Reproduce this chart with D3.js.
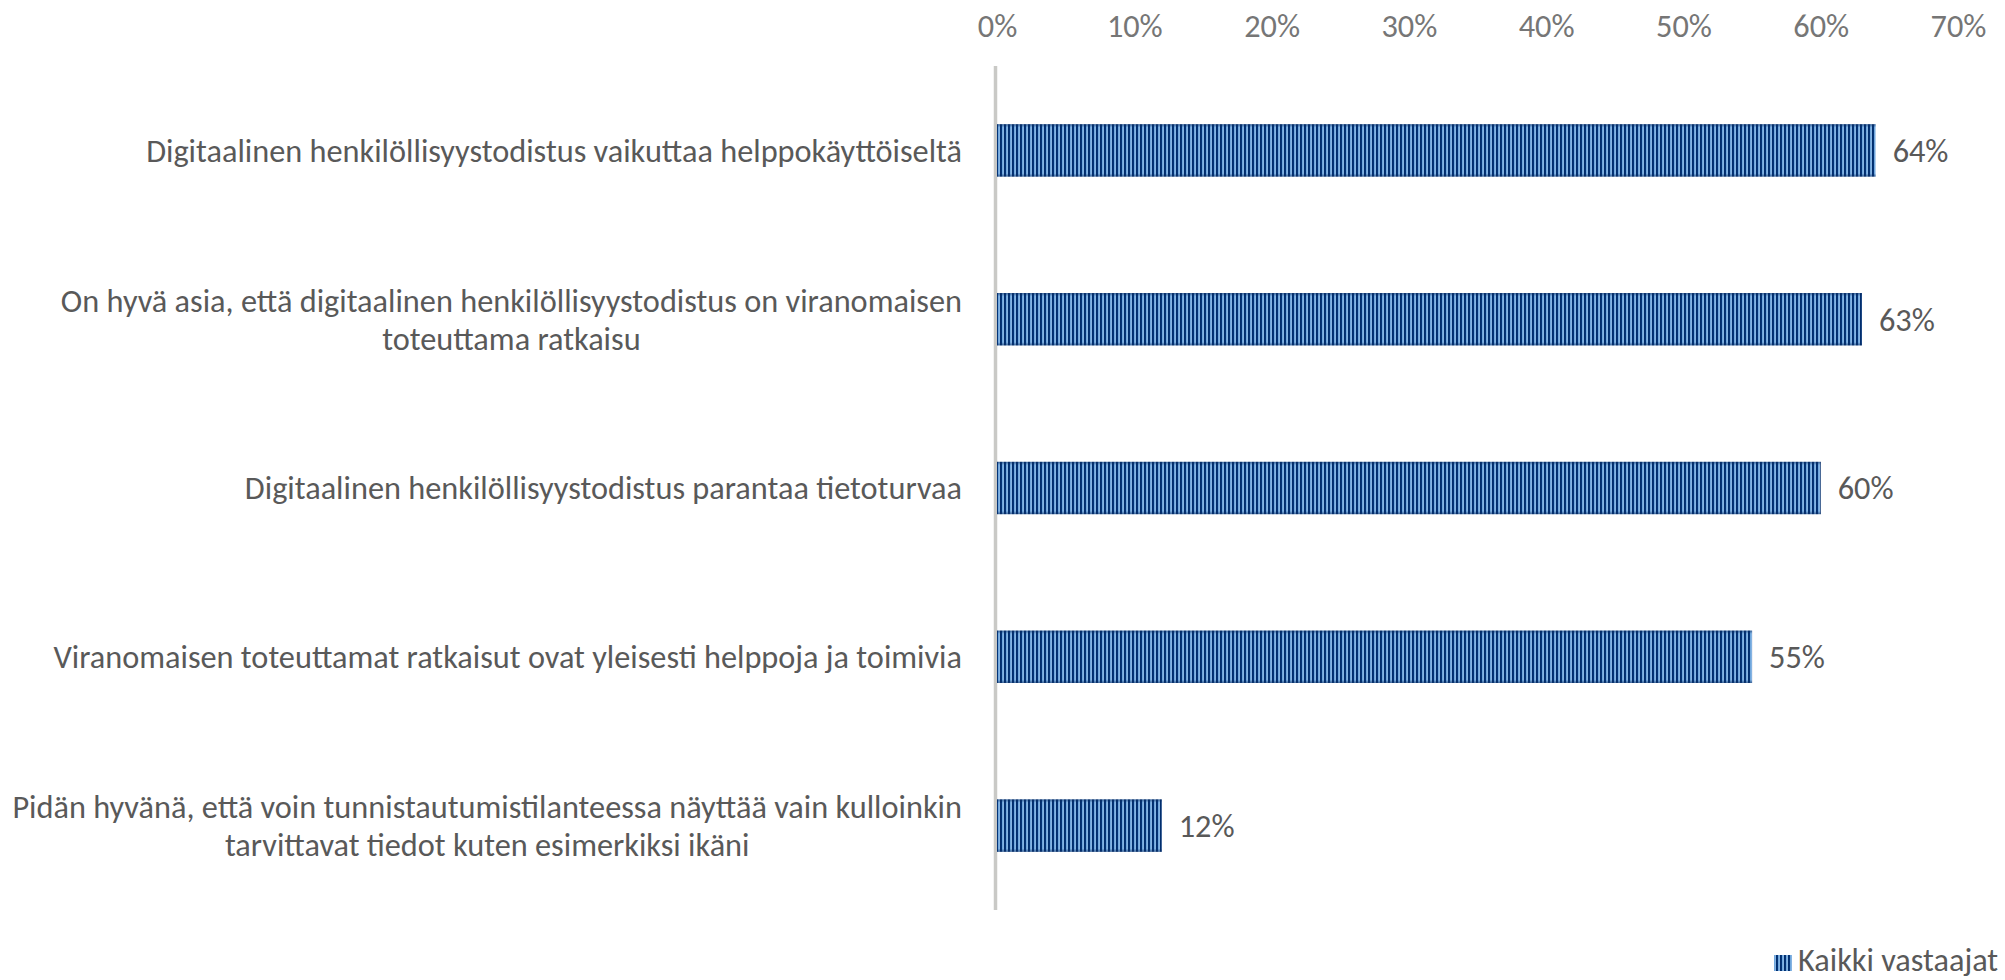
<!DOCTYPE html>
<meta charset="utf-8">
<style>
    body { margin: 0; background: #fff; }
    svg text { font-family: Carlito, Calibri, Lato, sans-serif; }
    .tick text { fill: #767676; }
    .cat text { fill: #595959; }
    .val { fill: #595959; }
</style>
<svg width="2005" height="980"></svg>
<script src="https://d3js.org/d3.v7.min.js"></script>
<script>

    // data
    var categories = [
        ["Digitaalinen henkilöllisyystodistus vaikuttaa helppokäyttöiseltä"],
        ["On hyvä asia, että digitaalinen henkilöllisyystodistus on viranomaisen", "toteuttama ratkaisu"],
        ["Digitaalinen henkilöllisyystodistus parantaa tietoturvaa"],
        ["Viranomaisen toteuttamat ratkaisut ovat yleisesti helppoja ja toimivia"],
        ["Pidän hyvänä, että voin tunnistautumistilanteessa näyttää vain kulloinkin", "tarvittavat tiedot kuten esimerkiksi ikäni"]
    ];
    var values = [0.64, 0.63, 0.60, 0.55, 0.12];
    var ticks = [0, 0.1, 0.2, 0.3, 0.4, 0.5, 0.6, 0.7];
    var seriesName = "Kaikki vastaajat";

    var svg = d3.select("svg"),
        fontSize = 32.3;

    var x = d3.scaleLinear()
        .domain([0, 0.7])
        .range([997, 1958]);

    var y = d3.scaleBand()
        .domain(d3.range(categories.length))
        .range([66, 910])
        .paddingInner(0.69)
        .paddingOuter(0.345);

    // striped fill like the excel pattern
    var defs = svg.append("defs");
    var sg = defs.append("linearGradient").attr("id", "stripeGrad");
    sg.append("stop").attr("offset", "0%").attr("stop-color", "#002b68");
    sg.append("stop").attr("offset", "45%").attr("stop-color", "#05357a");
    sg.append("stop").attr("offset", "62%").attr("stop-color", "#6fa6dc");
    sg.append("stop").attr("offset", "80%").attr("stop-color", "#a9d1f7");
    sg.append("stop").attr("offset", "100%").attr("stop-color", "#4a82c0");

    var pat = defs.append("pattern")
        .attr("id", "stripes")
        .attr("patternUnits", "userSpaceOnUse")
        .attr("width", 4)
        .attr("height", 10);
    pat.append("rect").attr("width", 4).attr("height", 10).attr("fill", "url(#stripeGrad)");

    var grad = defs.append("linearGradient")
        .attr("id", "edge")
        .attr("x1", 0).attr("x2", 0).attr("y1", 0).attr("y2", 1);
    grad.append("stop").attr("offset", "0%").attr("stop-color", "#0b2d63").attr("stop-opacity", 0.6);
    grad.append("stop").attr("offset", "6%").attr("stop-color", "#0b2d63").attr("stop-opacity", 0);
    grad.append("stop").attr("offset", "94%").attr("stop-color", "#0b2d63").attr("stop-opacity", 0);
    grad.append("stop").attr("offset", "100%").attr("stop-color", "#0b2d63").attr("stop-opacity", 0.6);

    // top axis, labels only
    var xAxis = svg.append("g")
        .attr("transform", "translate(0,37)")
        .call(d3.axisTop(x)
            .tickValues(ticks)
            .tickSize(0)
            .tickPadding(0)
            .tickFormat(d3.format(".0%")));
    xAxis.select(".domain").remove();
    xAxis.selectAll("text")
        .attr("font-size", fontSize)
        .attr("dy", 0);

    // category axis line
    svg.append("line")
        .attr("x1", x(0) - 1.5).attr("x2", x(0) - 1.5)
        .attr("y1", 66).attr("y2", 910)
        .attr("stroke", "#c9c9c6")
        .attr("stroke-width", 3.5);

    var bars = svg.append("g").selectAll("g")
        .data(values)
        .enter().append("g");

    bars.append("rect")
        .attr("x", x(0))
        .attr("y", function(d, i) { return y(i); })
        .attr("width", function(d) { return x(d) - x(0); })
        .attr("height", y.bandwidth())
        .attr("fill", "url(#stripes)");

    bars.append("rect")
        .attr("x", x(0))
        .attr("y", function(d, i) { return y(i); })
        .attr("width", function(d) { return x(d) - x(0); })
        .attr("height", y.bandwidth())
        .attr("fill", "url(#edge)");

    bars.append("text")
        .attr("class", "val")
        .attr("x", function(d) { return x(d) + 17; })
        .attr("y", function(d, i) { return y(i) + y.bandwidth() / 2; })
        .attr("dy", "0.35em")
        .attr("font-size", fontSize)
        .text(d3.format(".0%"));

    // category labels: block right aligned, lines centred in it
    var lineH = 38;
    var cat = svg.append("g").attr("class", "cat");
    categories.forEach(function(lines, i) {
        var g = cat.append("g");
        var cy = y(i) + y.bandwidth() / 2;
        var t = g.selectAll("text")
            .data(lines)
            .enter().append("text")
            .attr("font-size", fontSize)
            .attr("y", function(d, j) { return cy + (j - (lines.length - 1) / 2) * lineH; })
            .attr("dy", "0.35em")
            .attr("text-anchor", "middle")
            .text(function(d) { return d; });
        var w = d3.max(t.nodes(), function(n) { return n.getComputedTextLength(); });
        t.attr("x", 962 - w / 2);
    });

    // legend
    var leg = svg.append("g");
    leg.append("rect")
        .attr("x", 1774).attr("y", 955)
        .attr("width", 18).attr("height", 16)
        .attr("fill", "url(#stripes)");
    leg.append("text")
        .attr("x", 1798).attr("y", 960)
        .attr("dy", "0.35em")
        .attr("font-size", fontSize)
        .attr("fill", "#595959")
        .text(seriesName);

</script>
